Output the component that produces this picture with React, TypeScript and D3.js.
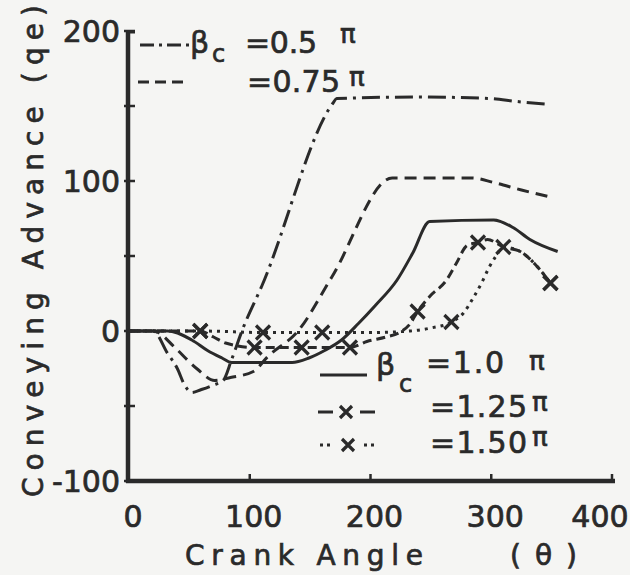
import React from "react";
import * as d3 from "d3";

const xTicks = [0, 100, 200, 300, 400];
const yTicks = [-100, 0, 100, 200];
const yMinorTicks = [-50, 50, 150];

const theta05 = [0, 20, 32, 40, 46, 52, 60, 70, 78, 85, 94, 110, 169, 172, 240, 299, 321, 349];
const v05 = [0, 0, -15, -25, -36, -41, -39, -36, -33, -19, 1, 30, 152, 155, 156, 155, 153, 151];

const theta075 = [0, 20, 24, 38, 56, 71, 84, 103, 115, 140, 168, 218, 250, 284, 302, 325, 351];
const v075 = [0, 0, -1, -11, -25, -33, -31, -27, -17, 0, 36, 102, 102, 102, 99, 94, 89];

const theta10 = [0, 32, 52, 65, 77, 85, 107, 135, 149, 162, 176, 190, 204, 222, 235, 249, 302, 318, 332, 355];
const v10 = [0, 0, -6, -13, -18, -21, -21, -21, -18, -13, -6, 5, 17, 34, 52, 73, 74, 69, 61, 53];

const theta125 = [0, 59, 70, 80, 104, 125, 143, 165, 183, 197, 213, 224, 233, 239, 249, 263, 271, 280, 289, 297, 310, 324, 338, 349];
const v125 = [0, 0, -4, -8, -11, -11, -11, -11, -11, -7, -4, -1, 5, 13, 23, 34, 45, 57, 59, 61, 56, 53, 43, 32];
const marks125 = [59, 104, 143, 183, 239, 289, 349];

const theta150 = [0, 59, 111, 160, 200, 233, 250, 267, 277, 285, 292, 298, 304, 310, 324, 338, 349];
const v150 = [0, 0, -1, -1, -1, 0, 2, 6, 12, 22, 32, 42, 50, 56, 53, 43, 32];
const marks150 = [59, 111, 160, 267, 310, 349];

const INK = "#2a2a2a";
const FONT = "'DejaVu Sans', sans-serif";

const xScale = d3.scaleLinear().domain([0, 400]).range([129, 612]);
const yScale = d3.scaleLinear().domain([-100, 200]).range([481, 31]);

type Series = { t: number[]; v: number[]; dash?: string; marks?: number[] };

const series: Series[] = [
  { t: theta05, v: v05, dash: "18 6 3 6" },
  { t: theta075, v: v075, dash: "12 7" },
  { t: theta10, v: v10 },
  { t: theta125, v: v125, dash: "9 5", marks: marks125 },
  { t: theta150, v: v150, dash: "3 5", marks: marks150 },
];

const line = d3
  .line<[number, number]>()
  .x((d) => xScale(d[0]))
  .y((d) => yScale(d[1]))
  .curve(d3.curveMonotoneX);

function interp(t: number[], v: number[], x: number) {
  return d3.scaleLinear().domain(t).range(v)(x);
}

const XMark = ({ x, y, s = 7 }: { x: number; y: number; s?: number }) => (
  <path
    d={`M${x - s},${y - s}L${x + s},${y + s}M${x + s},${y - s}L${x - s},${y + s}`}
    stroke={INK}
    strokeWidth={3.2}
    fill="none"
  />
);

const T = (p: any) => (
  <text fill={INK} stroke={INK} strokeWidth={0.7} {...p} />
);

export default function App() {
  return (
    <svg
      width={630}
      height={575}
      style={{ position: "absolute", left: 0, top: 0 }}
      fontFamily={FONT}
    >
      <rect width={630} height={575} fill="#f5f5f3" />

      {/* axes */}
      <line x1={128} y1={30} x2={128} y2={483} stroke={INK} strokeWidth={4.5} />
      <line x1={126} y1={481} x2={615} y2={481} stroke={INK} strokeWidth={4.5} />
      <line x1={128} y1={32} x2={135} y2={32} stroke={INK} strokeWidth={3} />
      {yTicks.concat(yMinorTicks).map((t) => (
        <line key={"yt" + t} x1={124} x2={135} y1={yScale(t)} y2={yScale(t)} stroke={INK} strokeWidth={2.5} />
      ))}
      {xTicks.slice(1).map((t) => (
        <line key={"xt" + t} x1={xScale(t)} x2={xScale(t)} y1={481} y2={474} stroke={INK} strokeWidth={2.5} />
      ))}

      {/* tick labels */}
      {yTicks.map((t) => (
        <T key={"yl" + t} x={120} y={yScale(t) + 11} textAnchor="end" fontSize={30}>
          {t}
        </T>
      ))}
      {xTicks.map((t) => (
        <T
          key={"xl" + t}
          x={t === 400 ? 600 : xScale(t) + 4}
          y={527}
          textAnchor="middle"
          fontSize={30}
        >
          {t}
        </T>
      ))}

      {/* axis titles */}
      <T transform="translate(43,497) rotate(-90)" fontSize={28} textLength={492} lengthAdjust="spacing">
        Conveying Advance (qe)
      </T>
      <T x={185} y={565} fontSize={28} textLength={238} lengthAdjust="spacing">
        Crank Angle
      </T>
      <T x={510} y={565} fontSize={28} textLength={67} lengthAdjust="spacing">
        (θ)
      </T>

      {/* curves */}
      {series.map((s, i) => (
        <path
          key={"s" + i}
          d={line(s.t.map((t, j) => [t, s.v[j]] as [number, number])) || ""}
          fill="none"
          stroke={INK}
          strokeWidth={3}
          strokeDasharray={s.dash}
        />
      ))}
      {series.map((s, i) =>
        (s.marks || []).map((m) => (
          <XMark key={"m" + i + "-" + m} x={xScale(m)} y={yScale(interp(s.t, s.v, m))} />
        ))
      )}

      {/* top legend */}
      <line x1={140} y1={45} x2={190} y2={45} stroke={INK} strokeWidth={3} strokeDasharray="14 5 3 5" />
      <line x1={138} y1={82} x2={185} y2={82} stroke={INK} strokeWidth={3} strokeDasharray="11 6" />
      <T x={190} y={53} fontSize={30}>β</T>
      <T x={212} y={62} fontSize={24}>c</T>
      <T x={245} y={53} fontSize={30} textLength={72} lengthAdjust="spacing">=0.5</T>
      <T x={340} y={43} fontSize={26}>π</T>
      <T x={247} y={92} fontSize={30} textLength={93} lengthAdjust="spacing">=0.75</T>
      <T x={349} y={86} fontSize={26}>π</T>

      {/* bottom legend */}
      <line x1={320} y1={375} x2={367} y2={375} stroke={INK} strokeWidth={3} />
      <T x={376} y={375} fontSize={30}>β</T>
      <T x={399} y={392} fontSize={24}>c</T>
      <T x={426} y={373} fontSize={30} textLength={78} lengthAdjust="spacing">=1.0</T>
      <T x={529} y={370} fontSize={26}>π</T>

      <line x1={318} y1={412} x2={333} y2={412} stroke={INK} strokeWidth={3} />
      <XMark x={346} y={412} s={6} />
      <line x1={360} y1={412} x2={375} y2={412} stroke={INK} strokeWidth={3} />
      <T x={430} y={417} fontSize={30} textLength={97} lengthAdjust="spacing">=1.25</T>
      <T x={532} y={411} fontSize={26}>π</T>

      <line x1={320} y1={445} x2={332} y2={445} stroke={INK} strokeWidth={3} strokeDasharray="3 4" />
      <XMark x={348} y={445} s={6} />
      <line x1={364} y1={445} x2={377} y2={445} stroke={INK} strokeWidth={3} strokeDasharray="3 4" />
      <T x={430} y={453} fontSize={30} textLength={97} lengthAdjust="spacing">=1.50</T>
      <T x={532} y={446} fontSize={26}>π</T>
    </svg>
  );
}
